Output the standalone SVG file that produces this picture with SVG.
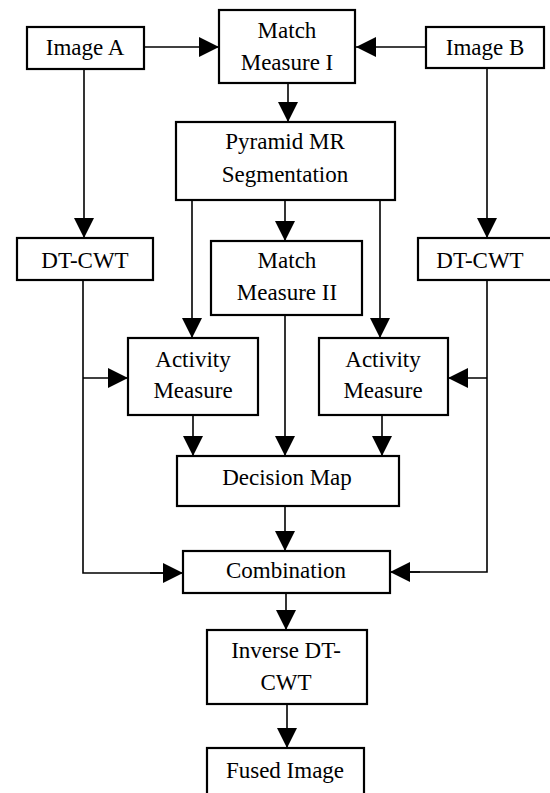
<svg xmlns="http://www.w3.org/2000/svg" width="550" height="793" viewBox="0 0 550 793">
<defs>
<marker id="ah" markerUnits="userSpaceOnUse" markerWidth="20" markerHeight="20" viewBox="0 0 20 20" refX="20" refY="10" orient="auto">
<path d="M0,0 L20,10 L0,20 Z" fill="#000"/>
</marker>
</defs>
<style>
.box{fill:#fff;stroke:#000;stroke-width:2.2}
.t{font-family:'Liberation Serif','Times New Roman',serif;font-size:23px;fill:#000;text-anchor:middle}
.c{fill:none;stroke:#000;stroke-width:1.6}
.a{marker-end:url(#ah)}
</style>
<rect width="550" height="793" fill="#fff"/>
<g id="connectors">
<line class="c a" x1="144" y1="47" x2="219" y2="47"/>
<line class="c a" x1="426" y1="47" x2="356" y2="47"/>
<line class="c a" x1="288" y1="83" x2="288" y2="122"/>
<line class="c a" x1="84" y1="69" x2="84" y2="238"/>
<line class="c a" x1="487" y1="68" x2="487" y2="238"/>
<line class="c a" x1="192" y1="200" x2="192" y2="338"/>
<line class="c a" x1="285" y1="200" x2="285" y2="241"/>
<line class="c a" x1="380" y1="200" x2="380" y2="338"/>
<polyline class="c" points="83,280 83,573 163,573"/>
<line class="c a" x1="83" y1="378" x2="128" y2="378"/>
<polyline class="c" points="487,280 487,572 410,572"/>
<line class="c a" x1="487" y1="378" x2="448" y2="378"/>
<line class="c a" x1="150" y1="573" x2="183" y2="573"/>
<line class="c a" x1="420" y1="572" x2="390" y2="572"/>
<line class="c a" x1="193" y1="415" x2="193" y2="456"/>
<line class="c a" x1="285" y1="315" x2="285" y2="456"/>
<line class="c a" x1="382" y1="415" x2="382" y2="456"/>
<line class="c a" x1="285" y1="506" x2="285" y2="551"/>
<line class="c a" x1="286" y1="593" x2="286" y2="630"/>
<line class="c a" x1="287" y1="704" x2="287" y2="748"/>
</g>
<g id="imageA"><rect class="box" x="27" y="27" width="117" height="42"/><text class="t" x="85" y="55">Image A</text></g>
<g id="imageB"><rect class="box" x="426" y="27" width="118" height="41"/><text class="t" x="485" y="55">Image B</text></g>
<g id="match1"><rect class="box" x="219" y="10" width="136" height="73"/><text class="t" x="287" y="38">Match</text><text class="t" x="287" y="70">Measure I</text></g>
<g id="pyramid"><rect class="box" x="176" y="122" width="219" height="78"/><text class="t" x="285" y="149">Pyramid MR</text><text class="t" x="285" y="182">Segmentation</text></g>
<g id="dtcwtA"><rect class="box" x="17" y="238" width="136" height="42"/><text class="t" x="85" y="268">DT-CWT</text></g>
<g id="dtcwtB"><rect class="box" x="418" y="238" width="150" height="42"/><text class="t" x="480" y="268">DT-CWT</text></g>
<g id="match2"><rect class="box" x="211" y="241" width="151" height="74"/><text class="t" x="287" y="268">Match</text><text class="t" x="287" y="300">Measure II</text></g>
<g id="activityA"><rect class="box" x="128" y="338" width="130" height="77"/><text class="t" x="193" y="367">Activity</text><text class="t" x="193" y="398">Measure</text></g>
<g id="activityB"><rect class="box" x="319" y="338" width="129" height="77"/><text class="t" x="383" y="367">Activity</text><text class="t" x="383" y="398">Measure</text></g>
<g id="decision"><rect class="box" x="177" y="456" width="222" height="50"/><text class="t" x="287" y="485">Decision Map</text></g>
<g id="combination"><rect class="box" x="183" y="551" width="207" height="42"/><text class="t" x="286" y="578">Combination</text></g>
<g id="inverse"><rect class="box" x="207" y="630" width="160" height="74"/><text class="t" x="286" y="658">Inverse DT-</text><text class="t" x="286" y="690">CWT</text></g>
<g id="fused"><rect class="box" x="207" y="748" width="157" height="60"/><text class="t" x="285" y="778">Fused Image</text></g>
</svg>
